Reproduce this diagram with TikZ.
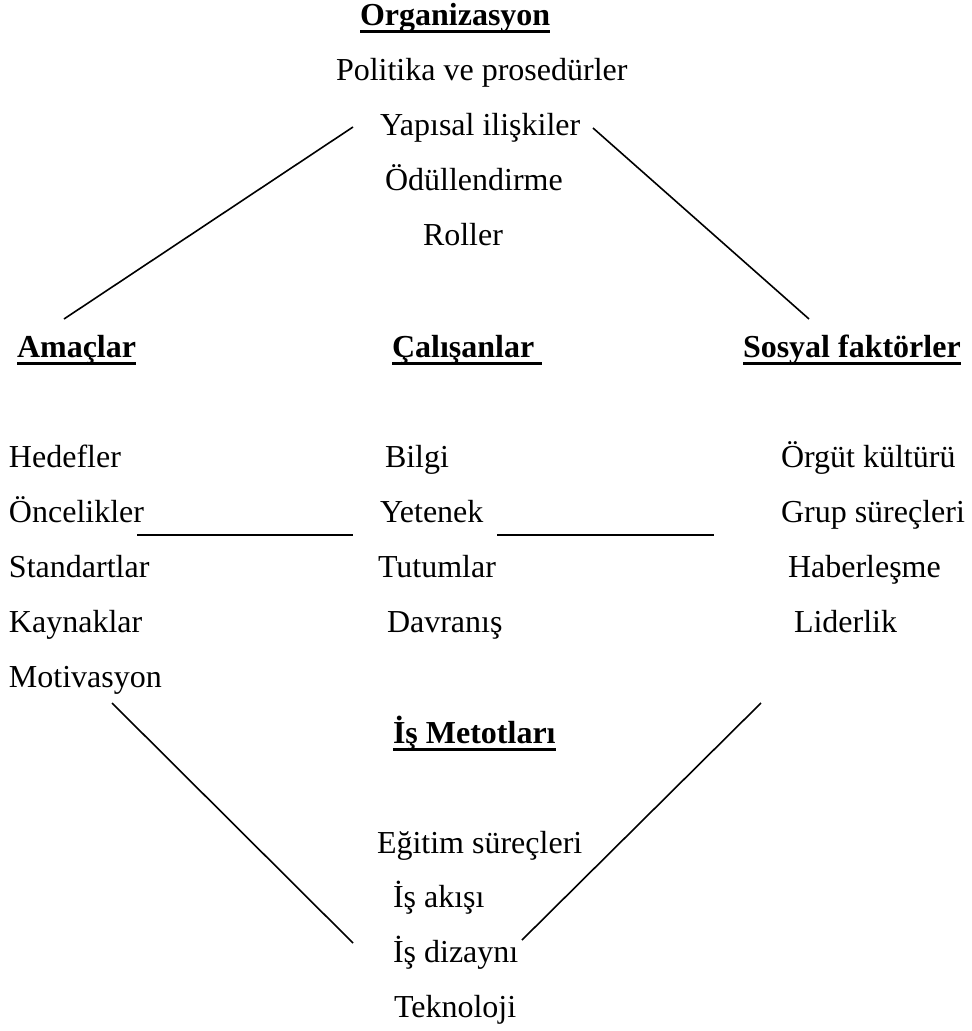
\documentclass[tikz,border=0pt]{standalone}
\usepackage{fontspec}
\setmainfont{Liberation Serif}
\begin{document}
\begin{tikzpicture}[x=1pt,y=-1pt,
  txt/.style={anchor=base west,inner sep=0pt,outer sep=0pt,font=\fontsize{32}{38}\selectfont},
  head/.style={txt,font=\fontsize{32}{38}\selectfont\bfseries},
  ul/.style={line width=3pt},
  link/.style={line width=1.6pt,line cap=butt}]
\useasboundingbox[fill=white] (0,0) rectangle (972,1031);
% Organizasyon
\node[head] (org) at (360,25) {Organizasyon};
\node[txt] (o1) at (336,80) {Politika ve prosedürler};
\node[txt] (o2) at (380,135) {Yapısal ilişkiler};
\node[txt] (o3) at (385,190) {Ödüllendirme};
\node[txt] (o4) at (423,245) {Roller};
% headings row
\node[head] (ama) at (17,357) {Amaçlar};
\node[head] (cal) at (392,357) {Çalışanlar\hspace*{8pt}};
\node[head] (sos) at (743,357) {Sosyal faktörler};
% left column
\node[txt] (a1) at (9,467) {Hedefler};
\node[txt] (a2) at (9,522) {Öncelikler};
\node[txt] (a3) at (9,577) {Standartlar};
\node[txt] (a4) at (9,632) {Kaynaklar};
\node[txt] (a5) at (9,687) {Motivasyon};
% middle column
\node[txt] (c1) at (385,467) {Bilgi};
\node[txt] (c2) at (380,522) {Yetenek};
\node[txt] (c3) at (378,577) {Tutumlar};
\node[txt] (c4) at (387,632) {Davranış};
% right column
\node[txt] (s1) at (781,467) {Örgüt kültürü};
\node[txt] (s2) at (781,522) {Grup süreçleri};
\node[txt] (s3) at (788,577) {Haberleşme};
\node[txt] (s4) at (794,632) {Liderlik};
% Is Metotlari
\node[head] (ism) at (393,743) {İş Metotları};
\node[txt] (i1) at (377,853) {Eğitim süreçleri};
\node[txt] (i2) at (393,907) {İş akışı};
\node[txt] (i3) at (393,962) {İş dizaynı};
\node[txt] (i4) at (394,1017) {Teknoloji};
% underlines
\foreach \n in {org,ama,cal,sos,ism}
  \draw[ul] ([yshift=-6pt]\n.base west) -- ([yshift=-6pt]\n.base east);
% connector end points
\coordinate (tl1) at (353,127);
\coordinate (tl2) at (64,319);
\coordinate (tr1) at (593,128);
\coordinate (tr2) at (809,319);
\coordinate (hl1) at (137,535);
\coordinate (hl2) at (353,535);
\coordinate (hr1) at (497,535);
\coordinate (hr2) at (714,535);
\coordinate (bl1) at (112,703);
\coordinate (bl2) at (353,943);
\coordinate (br1) at (761,703);
\coordinate (br2) at (522,940);
\draw[link] (tl1) -- (tl2);
\draw[link] (tr1) -- (tr2);
\draw[link] (hl1) -- (hl2);
\draw[link] (hr1) -- (hr2);
\draw[link] (bl1) -- (bl2);
\draw[link] (br1) -- (br2);
\end{tikzpicture}
\end{document}
